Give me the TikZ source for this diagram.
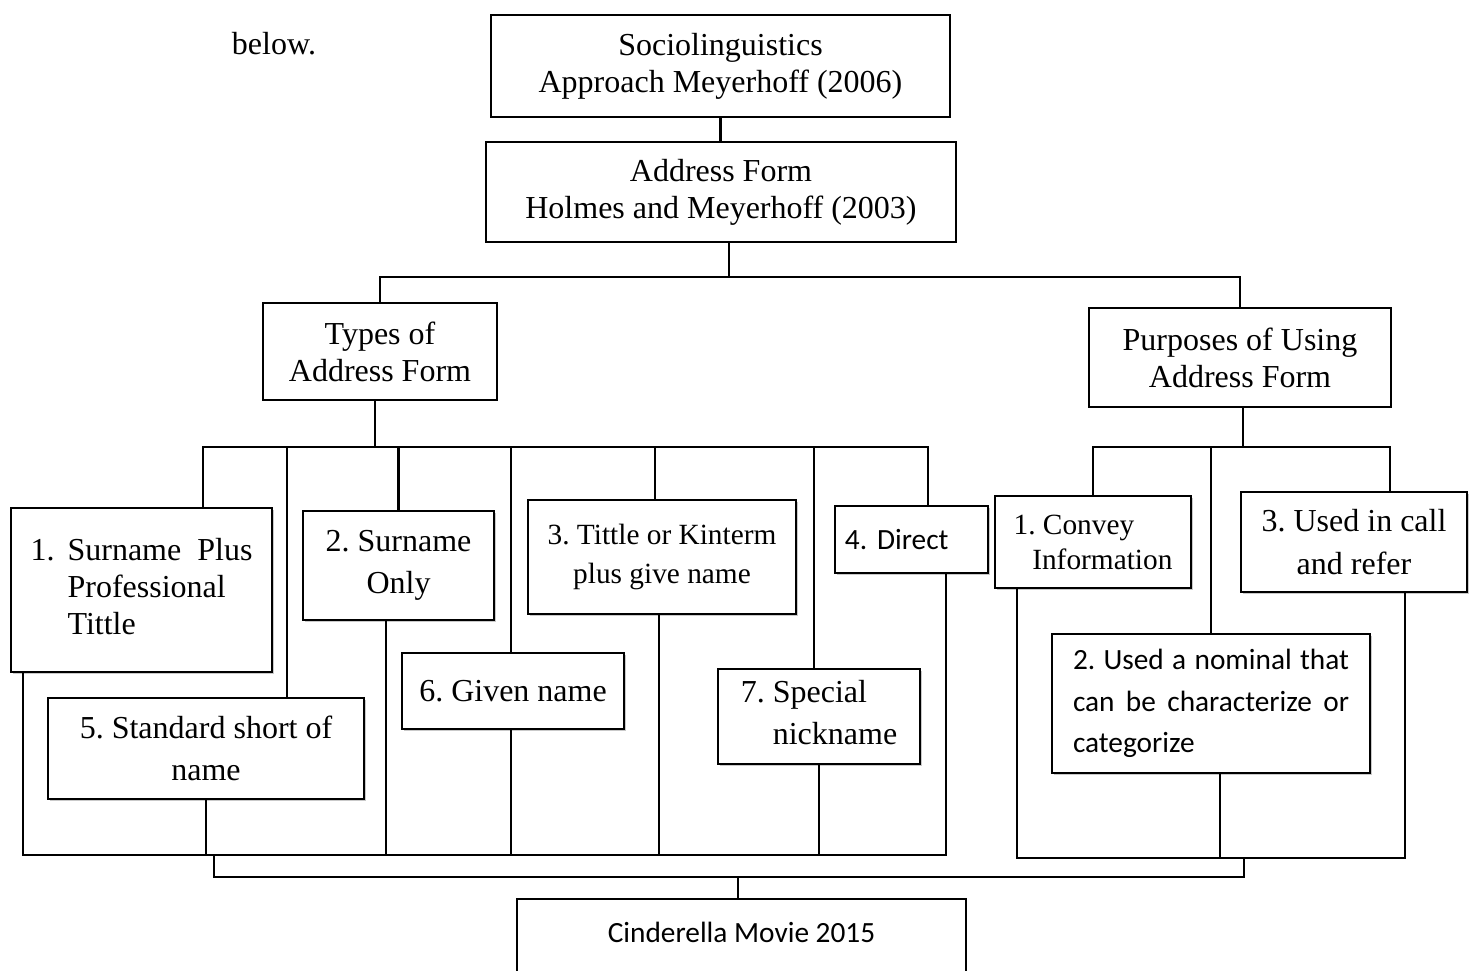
\documentclass[tikz,border=0pt]{standalone}
\usepackage{fontspec}
\setmainfont{Liberation Serif}
\newfontfamily\calibri{Carlito}
\usepackage{tikz}
\usetikzlibrary{shadows}
\tolerance=9999
\frenchspacing

\begin{document}
\begin{tikzpicture}[x=0.375pt,y=-0.375pt,line width=0.8pt]
\tikzstyle{box}=[draw=black,fill=white,line width=0.9pt,align=center,inner sep=2pt]
\tikzstyle{item}=[box,drop shadow={shadow xshift=0.8pt,shadow yshift=-0.8pt,opacity=0.3,fill=black!70}]
\tikzstyle{sans}=[font=\calibri\fontsize{11pt}{15.6pt}\selectfont]
\tikzstyle{small}=[font=\fontsize{11pt}{13.1pt}\selectfont]
\tikzset{font=\fontsize{12pt}{13.9pt}\selectfont}

\useasboundingbox (0,0) rectangle (1471,970);
\clip (0,0) rectangle (1471,970);

        \node[anchor=base west]      (below) at (222,55)     {below.};

        \node[box,minimum width=172.1pt,minimum height=38.25pt]   (soc)   at (720.5,66)   {Sociolinguistics\\Approach Meyerhoff (2006)};
        \node[box,minimum width=176.25pt,minimum height=37.5pt]   (addr)  at (721,192)    {Address Form\\Holmes and Meyerhoff (2003)};

        \node[box,minimum width=87.75pt,minimum height=36.4pt]    (types) at (380,351.5)  {Types of\\Address Form};
        \node[box,minimum width=113.25pt,minimum height=37.1pt]   (purp)  at (1240,357.5) {Purposes of Using\\Address Form};

        % types of address form
        \node[item,minimum width=97.9pt,minimum height=61.5pt]    (t1)    at (141.5,590)
            {\begin{tabular}{@{}l@{\hspace{4.9pt}}l@{}}1.&Surname\ \ Plus\\&Professional\\&Tittle\end{tabular}};
        \node[item,minimum width=71.6pt,minimum height=40.9pt]    (t2)    at (398.5,565.5) {2. Surname\\[1.9pt]Only};
        \node[item,small,minimum width=100.5pt,minimum height=42.75pt] (t3) at (662,557)   {3. Tittle or Kinterm\\[1.5pt]plus give name};
        \node[item,sans,align=left,text width=49.9pt,inner xsep=3.75pt,minimum height=25.1pt] (t4) at (911.5,539.5) {4. Direct};
        \node[item,minimum width=118.5pt,minimum height=37.9pt]   (t5)    at (206,748.5)   {5. Standard short of\\[1.9pt]name};
        \node[item,minimum width=83.25pt,minimum height=28.5pt]   (t6)    at (513,691)     {6. Given name};
        \node[item,minimum width=75.75pt,minimum height=35.6pt]   (t7)    at (819,716.5)
            {\begin{tabular}{@{}l@{\hspace{3pt}}l@{}}7.&Special\\[1.9pt]&nickname\end{tabular}};

        % purposes of using address form
        \node[item,small,align=left,minimum width=73.5pt,minimum height=34.5pt] (p1) at (1093,542) {1. Convey\\\hspace*{7pt}Information};
        \node[item,sans,align=justify,text width=103.5pt,inner xsep=7.9pt,minimum height=52.1pt] (p2) at (1211,703.5)
            {2. Used a nominal that can be characterize or categorize};
        \node[item,minimum width=84.75pt,minimum height=37.5pt]   (p3)    at (1354,542)    {3. Used in call\\[1.9pt]and refer};

        \node[box,sans,anchor=north,minimum width=168.4pt,inner ysep=8.25pt,text height=7.8pt,text depth=30pt] (movie) at (741.5,898) {Cinderella Movie 2015};

        \coordinate (abus) at (729,277);
        \coordinate (tbus) at (375,447);
        \coordinate (pbus) at (1243,447);
        \coordinate (lbus) at (214,855);
        \coordinate (rbus) at (1244,858);
        \coordinate (mbus) at (738,877);

        \draw (soc.south) -- (soc.south |- addr.north);
        \draw (addr.south -| abus) -- (abus);
        \draw (types.north) |- (abus) -| (purp.north);

        \draw (types.south -| tbus) -- (tbus);
        \draw (t1.north -| 203,0) |- (tbus);
        \draw (t5.north -| 287,0) |- (tbus);
        \draw (t2.north) |- (tbus);
        \draw (t6.north -| 511,0) |- (tbus);
        \draw (t3.north -| 655,0) |- (tbus);
        \draw (t7.north -| 814,0) |- (tbus);
        \draw (t4.north -| 928,0) |- (tbus);

        \draw (t1.south -| 23,0) |- (lbus);
        \draw (t5.south) |- (lbus);
        \draw (t2.south -| 386,0) |- (lbus);
        \draw (t6.south -| 511,0) |- (lbus);
        \draw (t3.south -| 659,0) |- (lbus);
        \draw (t7.south) |- (lbus);
        \draw (t4.south -| 946,0) |- (lbus);

        \draw (purp.south -| pbus) -- (pbus);
        \draw (p1.north) |- (pbus);
        \draw (p2.north) |- (pbus);
        \draw (p3.north -| 1390,0) |- (pbus);

        \draw (p1.south -| 1017,0) |- (rbus);
        \draw (p2.south -| 1220,0) |- (rbus);
        \draw (p3.south -| 1405,0) |- (rbus);

        \draw (lbus) |- (mbus) -| (rbus);
        \draw (mbus) -- (mbus |- movie.north);

\end{tikzpicture}
\end{document}
